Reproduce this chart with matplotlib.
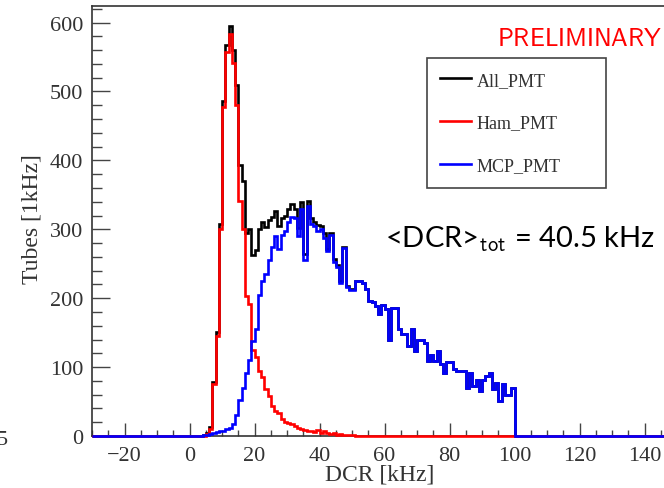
import numpy as np
import matplotlib
matplotlib.use('Agg')
import matplotlib.pyplot as plt
from matplotlib.lines import Line2D
from matplotlib.ticker import MultipleLocator

# 1 kHz bins from 0 to 100 kHz
bin_lo, bin_hi = 0, 100

ham_pmt = [0, 0, 0, 0, 0, 3, 10, 75, 145, 300,
           478, 557, 583, 542, 480, 341, 300, 203, 191, 125,
           115, 95, 85, 68, 58, 43, 36, 33, 25, 21,
           19, 18, 14, 12, 10, 9, 7, 8, 6, 9,
           5, 7, 4, 3, 5, 2, 3, 1, 2, 1,
           1, 0, 0, 0, 0, 0, 0, 0, 0, 0,
           0, 0, 0, 0, 0, 0, 0, 0, 0, 0,
           0, 0, 0, 0, 0, 0, 0, 0, 0, 0,
           0, 0, 0, 0, 0, 0, 0, 0, 0, 0,
           0, 0, 0, 0, 0, 0, 0, 0, 0, 0]

mcp_pmt = [0, 0, 0, 0, 1, 2, 3, 4, 6, 7,
           8, 10, 12, 18, 30, 52, 70, 92, 110, 138,
           155, 205, 225, 235, 255, 275, 290, 272, 292, 298,
           310, 318, 316, 290, 330, 255, 334, 308, 305, 297,
           300, 288, 268, 292, 252, 246, 222, 273, 216, 212,
           212, 225, 225, 222, 213, 196, 194, 189, 177, 190,
           184, 140, 186, 186, 155, 148, 148, 131, 155, 123,
           140, 140, 135, 109, 118, 109, 123, 104, 92, 107,
           107, 97, 95, 95, 95, 70, 92, 72, 82, 65,
           82, 87, 92, 68, 77, 51, 75, 60, 60, 70]

all_pmt = [0, 0, 0, 0, 1, 5, 13, 79, 151, 307,
           486, 567, 595, 560, 510, 393, 370, 295, 301, 263,
           270, 300, 310, 303, 313, 318, 326, 305, 317, 319,
           329, 336, 330, 302, 340, 264, 341, 316, 311, 306,
           305, 295, 272, 295, 257, 248, 225, 274, 218, 213,
           213, 225, 225, 222, 213, 196, 194, 189, 177, 190,
           184, 140, 186, 186, 155, 148, 148, 131, 155, 123,
           140, 140, 135, 109, 118, 109, 123, 104, 92, 107,
           107, 97, 95, 95, 95, 70, 92, 72, 82, 65,
           82, 87, 92, 68, 77, 51, 75, 60, 60, 70]

series = [('All_PMT', all_pmt, '#000000'),
          ('Ham_PMT', ham_pmt, '#ff0000'),
          ('MCP_PMT', mcp_pmt, '#0000ff')]

x_min, x_max = -30, 150
y_max = 624

plt.rcParams['mathtext.fontset'] = 'cm'

fig = plt.figure(figsize=(6.64, 4.89), dpi=100)
ax = fig.add_axes([0.1386, 0.1063, 0.881, 0.8793])

# pad the histograms with empty bins over the whole axis range
edges = np.arange(x_min, x_max + 1, 1)
for name, vals, color in series:
    full = np.concatenate([np.zeros(bin_lo - x_min), vals, np.zeros(x_max - bin_hi)])
    ax.stairs(full, edges, color=color, lw=1.9, baseline=None, clip_on=False, zorder=3)

ax.set_xlim(x_min, x_max)
ax.set_ylim(0, y_max)

ax.xaxis.set_major_locator(MultipleLocator(20))
ax.xaxis.set_minor_locator(MultipleLocator(5))
ax.yaxis.set_major_locator(MultipleLocator(100))
ax.yaxis.set_minor_locator(MultipleLocator(20))
ax.tick_params(axis='both', which='both', direction='in', colors='#444444',
               labelcolor='#333333', labelsize=16, width=1.0)
ax.tick_params(axis='y', which='major', length=13, pad=6.5)
ax.tick_params(axis='y', which='minor', length=7)
ax.tick_params(axis='x', which='major', length=9.5, pad=7)
ax.tick_params(axis='x', which='minor', length=4)
for lab in ax.get_xticklabels() + ax.get_yticklabels():
    lab.set_family('Liberation Serif')

for s in ax.spines.values():
    s.set_color('#333333')
    s.set_linewidth(1.2)

ax.set_xlabel('DCR [kHz]', family='Liberation Serif', fontsize=17, color='#333333')
ax.set_ylabel('Tubes [1kHz]', family='Liberation Serif', fontsize=17, color='#333333')
ax.xaxis.set_label_coords(0.492, -0.063)
ax.yaxis.set_label_coords(-0.1026, 0.507)
ax.yaxis.label.set(va='center', ha='center')

handles = [Line2D([], [], color=c, lw=1.9) for _, _, c in series]
leg = ax.legend(handles, [n for n, _, _ in series],
                bbox_to_anchor=(0.643, 0.613, 0.27, 0.266), bbox_transform=fig.transFigure,
                loc='upper left', mode='expand', borderaxespad=0,
                prop={'family': 'Liberation Serif', 'size': 13},
                handlelength=1.7, handletextpad=0.3, labelspacing=1.42, borderpad=0.75,
                fancybox=False, framealpha=1, edgecolor='#444444')
leg.get_frame().set_linewidth(1.2)
for t in leg.get_texts():
    t.set_color('#333333')

fig.text(0.7485, 0.906, r'$\mathsf{PRELIMINARY}$', color='#ff0000', fontsize=18, va='baseline')
fig.text(0.58, 0.495, r'<DCR>$_{\mathsf{tot}}$ = 40.5 kHz', family='Lato',
         color='black', fontsize=21, va='baseline')

# cut-off label of the neighbouring panel
fig.text(0.012, 0.0895, '5', family='Liberation Serif', fontsize=16, color='#333333',
         ha='right', va='baseline')

plt.savefig('out.png', dpi=100)
